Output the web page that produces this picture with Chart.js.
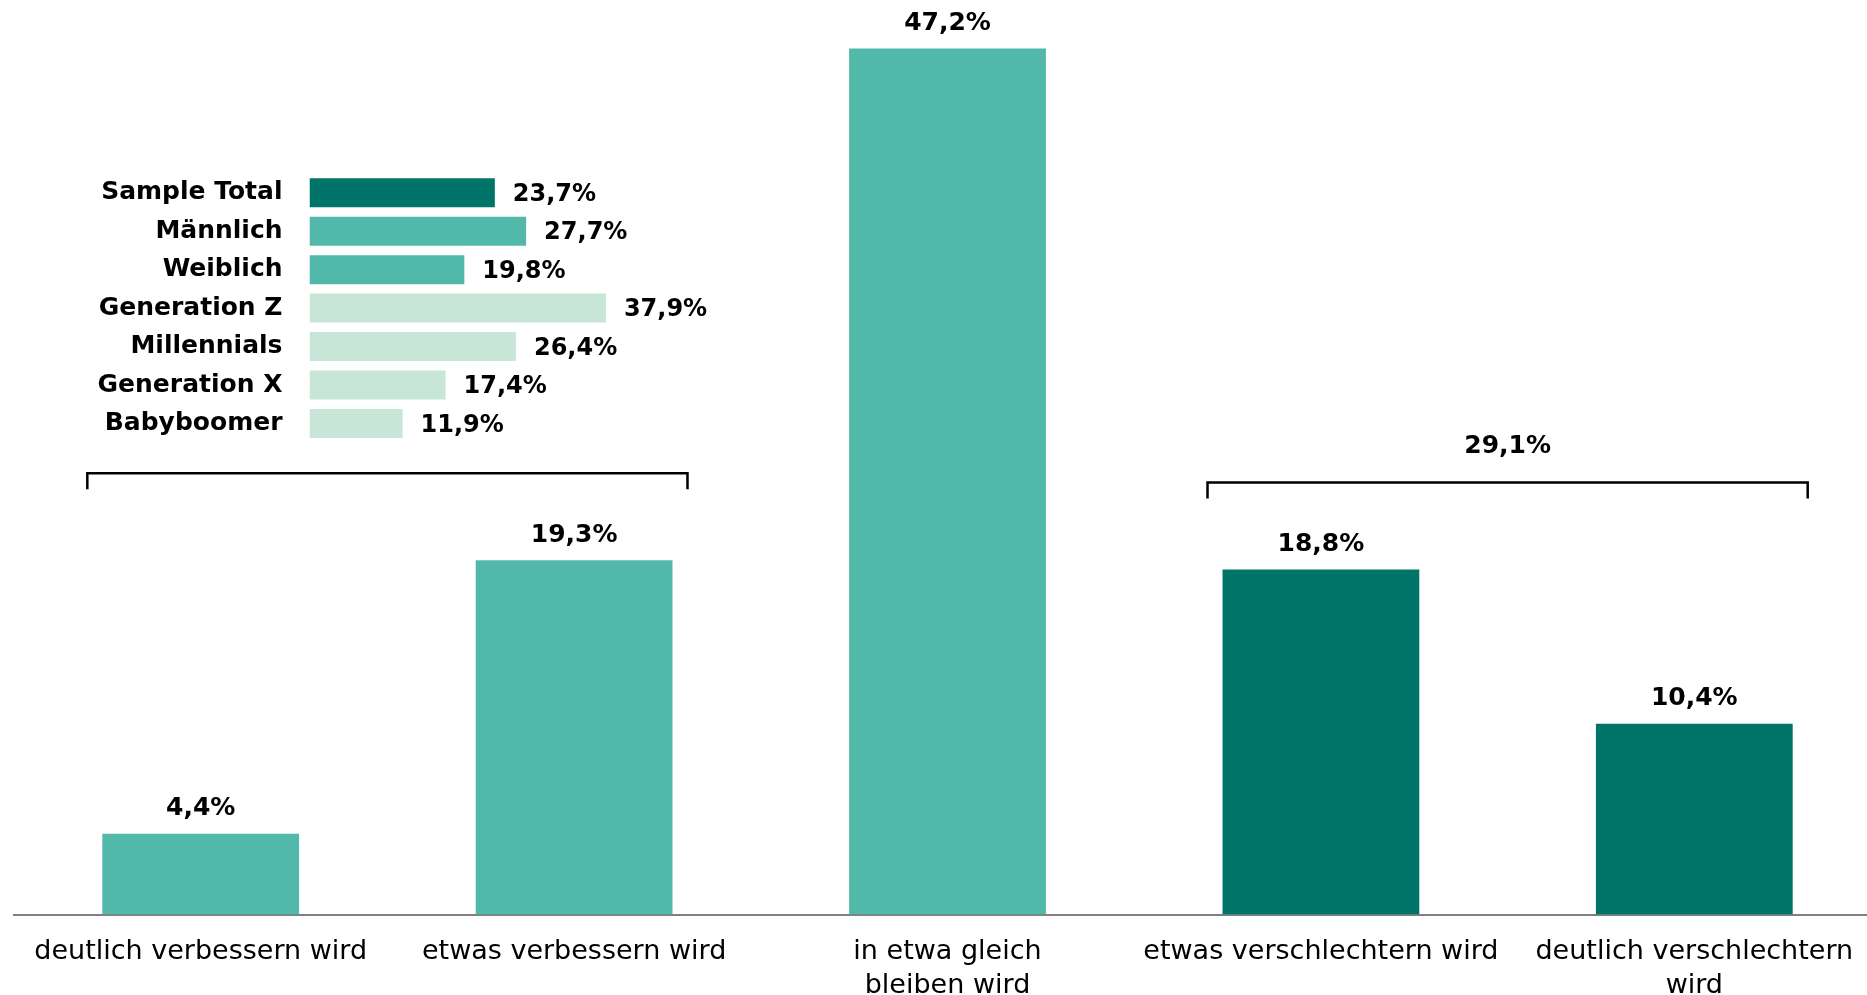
<!DOCTYPE html>
<html lang="de">
<head>
<meta charset="utf-8">
<title>Chart</title>
<script src="https://cdn.jsdelivr.net/npm/chart.js@4"></script>
<style>
  html, body { margin: 0; padding: 0; background: #fff; overflow: hidden; }
  #wrap { position: relative; width: 1867px; height: 995px; }
  #main-box { position: absolute; left: 0; top: 0; width: 1895px; height: 995px; }
  #inset-box { position: absolute; left: 0; top: 162px; width: 760px; height: 300px; }
</style>
</head>
<body>
<div id="wrap">
  <div id="main-box"><canvas id="mainChart"></canvas></div>
  <div id="inset-box"><canvas id="insetChart"></canvas></div>
</div>
<script>
const DARK = '#007468';
const MID = '#52B9AA';
const LIGHT = '#C8E6D7';

// main chart
const categories = [
    'deutlich verbessern wird',
    'etwas verbessern wird',
    ['in etwa gleich', 'bleiben wird'],
    'etwas verschlechtern wird',
    ['deutlich verschlechtern', 'wird']
];
const values = [4.4, 19.3, 47.2, 18.8, 10.4];
const valueLabels = ['4,4%', '19,3%', '47,2%', '18,8%', '10,4%'];
const barColors = [MID, MID, MID, DARK, DARK];

// brackets over bar groups
const groupFrom = [0, 3];
const groupTo = [1, 4];
const groupLabels = ['', '29,1%'];

// inset chart
const insetCategories = ['Sample Total', 'Männlich', 'Weiblich', 'Generation Z', 'Millennials', 'Generation X', 'Babyboomer'];
const insetValues = [23.7, 27.7, 19.8, 37.9, 26.4, 17.4, 11.9];
const insetLabels = ['23,7%', '27,7%', '19,8%', '37,9%', '26,4%', '17,4%', '11,9%'];
const insetColors = [DARK, MID, MID, LIGHT, LIGHT, LIGHT, LIGHT];

const FONT = '"DejaVu Sans", "Liberation Sans", Arial, sans-serif';

const barValuePlugin = {
    id: 'barValues',
    afterDatasetsDraw(chart) {
        const ctx = chart.ctx;
        const meta = chart.getDatasetMeta(0);
        ctx.save();
        ctx.fillStyle = '#000';
        ctx.font = 'bold 25px ' + FONT;
        ctx.textAlign = 'center';
        ctx.textBaseline = 'alphabetic';
        meta.data.forEach((bar, i) => {
            ctx.fillText(valueLabels[i], bar.x, bar.y - 18.5);
        });

        // brackets
        ctx.strokeStyle = '#000';
        ctx.lineWidth = 2.5;
        groupFrom.forEach((from, g) => {
            const to = groupTo[g];
            const a = meta.data[from], b = meta.data[to];
            const left = a.x - a.width / 2 - 15;
            const right = b.x + b.width / 2 + 15;
            let top = Infinity;
            for (let i = from; i <= to; i++) top = Math.min(top, meta.data[i].y);
            const y = top - 87;
            ctx.beginPath();
            ctx.moveTo(left, y + 16);
            ctx.lineTo(left, y);
            ctx.lineTo(right, y);
            ctx.lineTo(right, y + 16);
            ctx.stroke();
            if (groupLabels[g]) {
                ctx.fillText(groupLabels[g], (left + right) / 2, y - 30);
            }
        });
        ctx.restore();
    }
};

new Chart(document.getElementById('mainChart'), {
    type: 'bar',
    data: {
        labels: categories,
        datasets: [{
            data: values,
            backgroundColor: barColors,
            borderWidth: 0,
            barPercentage: 0.527,
            categoryPercentage: 1
        }]
    },
    options: {
        responsive: true,
        maintainAspectRatio: false,
        animation: false,
        layout: { padding: { top: 33.7, left: 14, right: 14, bottom: 0 } },
        plugins: { legend: { display: false }, tooltip: { enabled: false } },
        scales: {
            x: {
                grid: { display: false, drawTicks: false },
                border: { display: true, color: '#808080', width: 2 },
                ticks: {
                    color: '#000',
                    font: { family: FONT, size: 27, lineHeight: 1.26 },
                    padding: 20,
                    autoSkip: false,
                    maxRotation: 0,
                    minRotation: 0
                },
                afterFit(scale) { scale.height = 80.5; }
            },
            y: {
                display: false,
                min: 0,
                max: 48
            }
        }
    },
    plugins: [barValuePlugin]
});

const insetValuePlugin = {
    id: 'insetValues',
    afterDatasetsDraw(chart) {
        const ctx = chart.ctx;
        const meta = chart.getDatasetMeta(0);
        ctx.save();
        ctx.fillStyle = '#000';
        ctx.font = 'bold 24px ' + FONT;
        ctx.textAlign = 'left';
        ctx.textBaseline = 'middle';
        meta.data.forEach((bar, i) => {
            ctx.fillText(insetLabels[i], bar.x + 18, bar.y + 2);
        });
        ctx.restore();
    }
};

new Chart(document.getElementById('insetChart'), {
    type: 'bar',
    data: {
        labels: insetCategories,
        datasets: [{
            data: insetValues,
            backgroundColor: insetColors,
            borderWidth: 0,
            barPercentage: 0.754,
            categoryPercentage: 1
        }]
    },
    options: {
        indexAxis: 'y',
        responsive: true,
        maintainAspectRatio: false,
        animation: false,
        layout: { padding: { top: 11.5, left: 0, right: 59.5, bottom: 19.3 } },
        plugins: { legend: { display: false }, tooltip: { enabled: false } },
        scales: {
            x: { display: false, min: 0, max: 50 },
            y: {
                grid: { display: false, drawTicks: false },
                border: { display: false },
                ticks: {
                    color: '#000',
                    font: { family: FONT, size: 25, weight: 'bold' },
                    padding: 27,
                    autoSkip: false
                },
                afterFit(scale) {
                    scale.width = 309.5;
                    scale.paddingTop = 0;
                    scale.paddingBottom = 0;
                }
            }
        }
    },
    plugins: [insetValuePlugin]
});
</script>
</body>
</html>
